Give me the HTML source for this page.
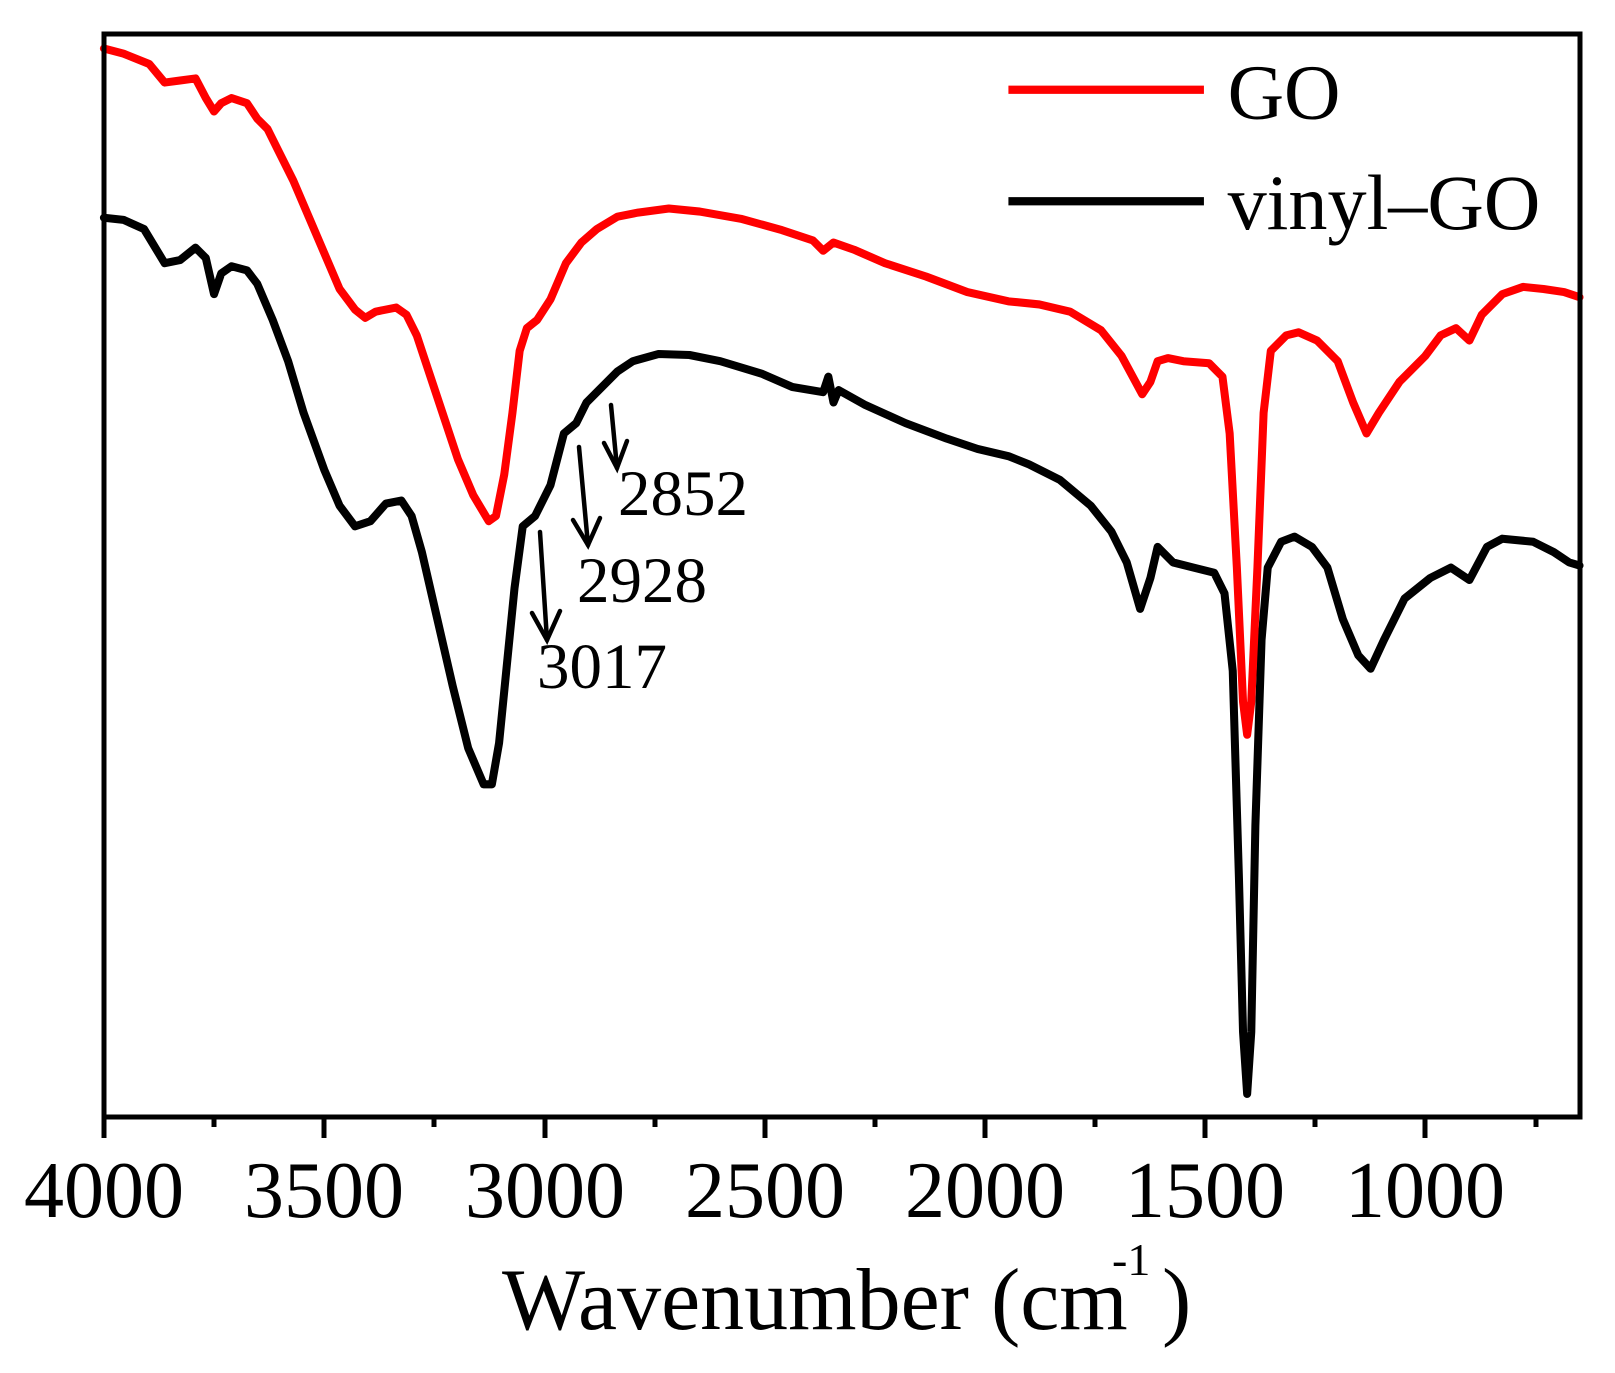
<!DOCTYPE html>
<html><head><meta charset="utf-8"><style>
html,body{margin:0;padding:0;background:#fff;}
svg{display:block;}
text{font-family:"Liberation Serif",serif;fill:#000;}
</style></head><body>
<svg width="1615" height="1373" viewBox="0 0 1615 1373" xmlns="http://www.w3.org/2000/svg">
<g transform="scale(1.029,1.032)">
<polyline fill="none" stroke="#000" stroke-width="7.8" stroke-linejoin="round" stroke-linecap="round" points="101,211 120,213 140,222 160,255 175,252 190,240 200,250 208,285 215,265 225,258 240,262 250,275 265,310 280,350 295,400 315,455 330,490 345,510 360,505 375,488 390,485 400,500 410,535 425,600 440,665 455,725 470,760 478,760 485,720 492,650 500,570 508,510 520,500 535,470 548,420 560,410 570,390 585,375 600,360 615,350 640,343 670,344 700,350 740,362 770,375 800,380 805,365 810,390 815,378 840,392 880,410 920,425 950,435 980,442 1000,450 1030,465 1060,490 1080,515 1095,545 1108,590 1118,560 1125,530 1140,545 1160,550 1180,555 1190,575 1198,650 1204,850 1208,1000 1212,1060 1216,1000 1220,800 1226,620 1232,550 1245,525 1258,520 1275,530 1290,550 1305,600 1320,635 1332,648 1345,620 1365,580 1390,560 1410,550 1428,562 1445,530 1460,522 1490,525 1510,535 1525,545 1535,548"/>
<polyline fill="none" stroke="#f00" stroke-width="7.8" stroke-linejoin="round" stroke-linecap="round" points="101,47 120,52 145,62 160,80 175,78 190,76 200,95 208,108 215,100 225,95 240,100 250,115 260,125 270,145 285,175 300,210 315,245 330,280 345,300 355,308 365,302 385,298 395,305 405,325 415,355 430,400 445,445 460,480 475,505 482,500 490,460 498,400 505,340 512,318 522,310 535,290 550,255 565,235 580,222 600,210 620,206 650,202 680,205 720,212 760,223 790,233 800,243 810,235 830,242 860,255 900,268 940,283 980,292 1010,295 1040,302 1070,320 1090,345 1110,382 1118,370 1125,350 1135,347 1150,350 1175,352 1188,365 1195,420 1202,550 1208,680 1212,712 1216,680 1222,550 1228,400 1235,340 1250,325 1262,322 1280,330 1300,350 1315,390 1328,420 1340,400 1360,370 1385,345 1400,325 1415,318 1428,330 1440,305 1460,285 1480,278 1500,280 1520,283 1535,288"/>
<line x1="980" y1="87" x2="1170" y2="87" stroke="#f00" stroke-width="8"/>
<line x1="980" y1="195" x2="1170" y2="195" stroke="#000" stroke-width="8"/>
<text x="1193" y="115" font-size="76">GO</text>
<text x="1193" y="222" font-size="76">vinyl–GO</text>
</g>
<rect x="104" y="34" width="1476" height="1083" fill="none" stroke="#000" stroke-width="5"/>
<g stroke="#000" stroke-width="5">
<line x1="104" y1="1117" x2="104" y2="1138"/><line x1="214" y1="1117" x2="214" y2="1127"/>
<line x1="324" y1="1117" x2="324" y2="1138"/><line x1="434" y1="1117" x2="434" y2="1127"/>
<line x1="545" y1="1117" x2="545" y2="1138"/><line x1="655" y1="1117" x2="655" y2="1127"/>
<line x1="765" y1="1117" x2="765" y2="1138"/><line x1="875" y1="1117" x2="875" y2="1127"/>
<line x1="985" y1="1117" x2="985" y2="1138"/><line x1="1095" y1="1117" x2="1095" y2="1127"/>
<line x1="1205" y1="1117" x2="1205" y2="1138"/><line x1="1315" y1="1117" x2="1315" y2="1127"/>
<line x1="1425" y1="1117" x2="1425" y2="1138"/><line x1="1536" y1="1117" x2="1536" y2="1127"/>
</g>
<g font-size="80" text-anchor="middle">
<text x="104" y="1217">4000</text><text x="324" y="1217">3500</text><text x="545" y="1217">3000</text>
<text x="765" y="1217">2500</text><text x="985" y="1217">2000</text><text x="1205" y="1217">1500</text>
<text x="1425" y="1217">1000</text>
</g>
<text x="502" y="1329" font-size="88">Wavenumber (cm</text>
<text x="1112" y="1275" font-size="46">-1</text>
<text x="1162" y="1329" font-size="88">)</text>
<g stroke="#000" stroke-width="4.5" fill="none" stroke-linecap="round">
<line x1="611" y1="405" x2="617" y2="468"/><polyline points="604,443 617,468 627,441"/>
<line x1="579" y1="447" x2="588" y2="545"/><polyline points="573,520 588,545 600,518"/>
<line x1="540" y1="532" x2="547" y2="640"/><polyline points="532,613 547,640 560,611"/>
</g>
<g font-size="65">
<text x="618" y="515">2852</text>
<text x="577" y="602">2928</text>
<text x="537" y="688">3017</text>
</g>
</svg>
</body></html>
